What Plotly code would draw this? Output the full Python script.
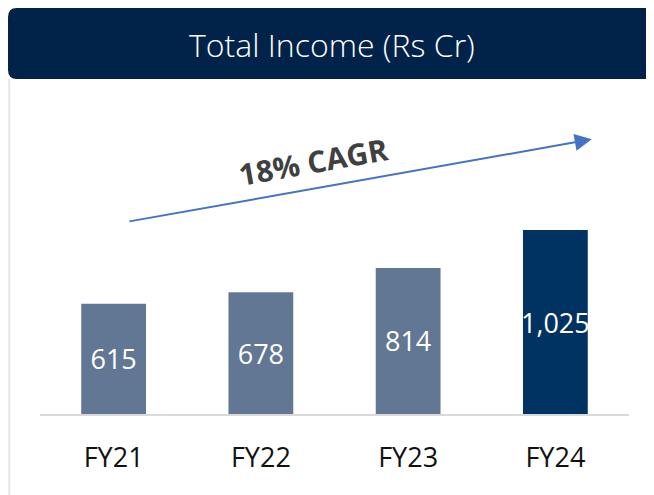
import plotly.graph_objects as go

# data
years = ["FY21", "FY22", "FY23", "FY24"]
income = [615, 678, 814, 1025]
bar_colors = ["#627794", "#627794", "#627794", "#003262"]
title_text = "Total Income (Rs Cr)"
cagr_text = "18% CAGR"

FONT = "Open Sans, Noto Sans, sans-serif"

fig = go.Figure(
    go.Bar(
        x=years,
        y=income,
        marker=dict(color=bar_colors, line=dict(width=0)),
        texttemplate="%{y:,}",
        textposition="inside",
        insidetextanchor="middle",
        textangle=0,
        constraintext="none",
        textfont=dict(color="white", size=27, family=FONT),
        hoverinfo="skip",
    )
)

# header box (paper coords; plot area is 589 x 314 px)
x0, x1 = -0.0543, 1.06
yt, yb = 1.293, 1.0669
rx, ry = 9 / 589, 9 / 314
header = (
    f"M{x0 + rx},{yt} L{x1},{yt} L{x1},{yb} L{x0 + rx},{yb} "
    f"Q{x0},{yb} {x0},{yb + ry} L{x0},{yt - ry} Q{x0},{yt} {x0 + rx},{yt} Z"
)
fig.add_shape(type="path", path=header, xref="paper", yref="paper",
              fillcolor="#01234a", line=dict(width=0), layer="below")
fig.add_shape(type="line", xref="paper", yref="paper",
              x0=x0 + 0.002, x1=x0 + 0.002, y0=yb, y1=-0.3,
              line=dict(color="#e3e7ec", width=2))

fig.add_annotation(text=title_text, xref="paper", yref="paper",
                   x=0.4966, y=1.178, xanchor="center", yanchor="middle",
                   showarrow=False,
                   font=dict(color="white", size=32, family=FONT, weight=300))

# CAGR arrow
fig.add_annotation(x=3.247, y=1531, ax=0.097, ay=1072,
                   xref="x", yref="y", axref="x", ayref="y",
                   text="", showarrow=True, arrowhead=2, arrowsize=1.7,
                   arrowwidth=2, arrowcolor="#4472c4")
fig.add_annotation(x=1.355, y=1405, xref="x", yref="y", text=f"<b>{cagr_text}</b>",
                   showarrow=False, textangle=-10,
                   font=dict(color="#404040", size=30, family=FONT))

fig.update_layout(
    width=646,
    height=487,
    margin=dict(l=32, r=25, t=92, b=81),
    paper_bgcolor="white",
    plot_bgcolor="white",
    bargap=0.56,
    showlegend=False,
    xaxis=dict(
        range=[-0.5, 3.5],
        showline=True,
        linecolor="#d9d9d9",
        linewidth=2,
        showgrid=False,
        ticks="",
        ticklabelstandoff=19,
        tickfont=dict(color="#111111", size=27, family=FONT),
        fixedrange=True,
    ),
    yaxis=dict(range=[0, 1750], visible=False, fixedrange=True),
)

fig.write_html("out.html")
